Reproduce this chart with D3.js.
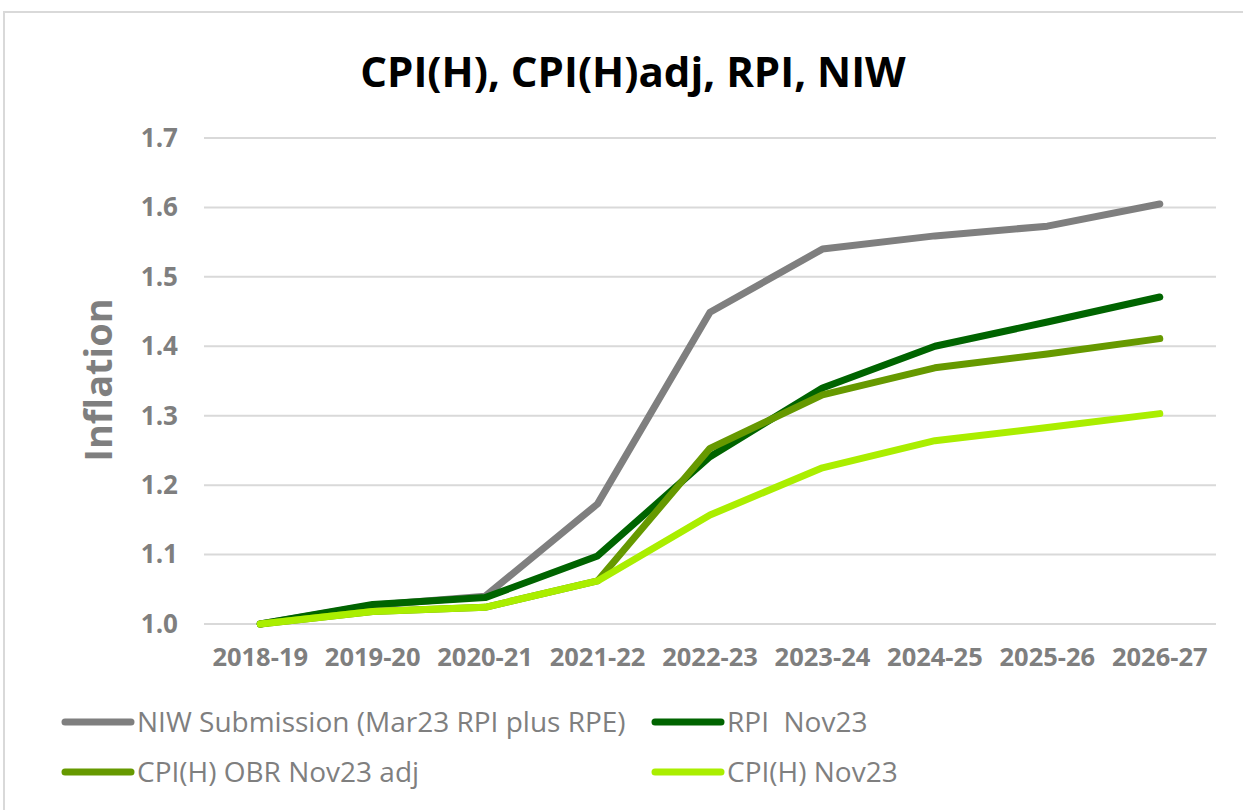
<!DOCTYPE html>
<html>
<head>
<meta charset="utf-8">
<script src="https://cdn.jsdelivr.net/npm/d3@7"></script>
<style>
  body { margin: 0; background: #fff; }
  svg { display: block; font-family: "Open Sans", sans-serif; }
</style>
</head>
<body>
<div id="chart"></div>
<script>
// data
const years = ["2018-19", "2019-20", "2020-21", "2021-22", "2022-23",
               "2023-24", "2024-25", "2025-26", "2026-27"];
const niw = [1.0, 1.027, 1.040, 1.173, 1.449, 1.540, 1.559, 1.573, 1.605];
const rpi = [1.0, 1.028, 1.038, 1.098, 1.241, 1.340, 1.400, 1.435, 1.471];
const cpihAdj = [1.0, 1.018, 1.024, 1.062, 1.253, 1.330, 1.369, 1.389, 1.411];
const cpih = [1.0, 1.018, 1.024, 1.062, 1.157, 1.225, 1.264, 1.283, 1.303];
const yTicks = [1.0, 1.1, 1.2, 1.3, 1.4, 1.5, 1.6, 1.7];

const series = [
  { name: "NIW Submission (Mar23 RPI plus RPE)", values: niw, color: "#7f7f7f" },
  { name: "RPI  Nov23", values: rpi, color: "#006400" },
  { name: "CPI(H) OBR Nov23 adj", values: cpihAdj, color: "#669900" },
  { name: "CPI(H) Nov23", values: cpih, color: "#aaee00" },
];

const width = 1243;
const height = 810;
const margin = { top: 138, right: 27, bottom: 186, left: 204 };

const svg = d3.select("#chart")
  .append("svg")
  .attr("width", width)
  .attr("height", height);

// outer frame
svg.append("rect")
  .attr("x", 4).attr("y", 12)
  .attr("width", width + 20).attr("height", height + 20)
  .attr("fill", "none")
  .attr("stroke", "#d9d9d9")
  .attr("stroke-width", 2);

svg.append("text")
  .attr("x", 633).attr("y", 87)
  .attr("text-anchor", "middle")
  .attr("font-size", 42)
  .attr("font-weight", "bold")
  .attr("fill", "#000")
  .text("CPI(H), CPI(H)adj, RPI, NIW");

const x = d3.scaleBand()
  .domain(years)
  .range([margin.left, width - margin.right]);

const y = d3.scaleLinear()
  .domain([1.0, 1.7])
  .range([height - margin.bottom, margin.top]);

// grid
svg.append("g")
  .selectAll("line")
  .data(yTicks)
  .join("line")
  .attr("x1", margin.left)
  .attr("x2", width - margin.right)
  .attr("y1", d => y(d))
  .attr("y2", d => y(d))
  .attr("stroke", "#d9d9d9")
  .attr("stroke-width", 2);

// y axis labels
const yAxis = svg.append("g")
  .attr("transform", `translate(${margin.left - 26},0)`)
  .call(d3.axisLeft(y).tickValues(yTicks).tickFormat(d3.format(".1f")).tickSize(0).tickPadding(0));
yAxis.select(".domain").remove();
yAxis.selectAll("text")
  .attr("font-family", "Open Sans, sans-serif")
  .attr("font-size", 26)
  .attr("font-weight", "bold")
  .attr("fill", "#7f7f7f");

// x axis labels
const xAxis = svg.append("g")
  .attr("transform", `translate(0,${height - margin.bottom + 24})`)
  .call(d3.axisBottom(x).tickSize(0).tickPadding(0));
xAxis.select(".domain").remove();
xAxis.selectAll("text")
  .attr("font-family", "Open Sans, sans-serif")
  .attr("font-size", 25.5)
  .attr("font-weight", "bold")
  .attr("fill", "#7f7f7f");

svg.append("text")
  .attr("transform", `translate(112,380) rotate(-90)`)
  .attr("text-anchor", "middle")
  .attr("font-size", 38)
  .attr("font-weight", "bold")
  .attr("fill", "#7f7f7f")
  .text("Inflation");

const line = d3.line()
  .x((d, i) => x(years[i]) + x.bandwidth() / 2)
  .y(d => y(d));

svg.append("g")
  .selectAll("path")
  .data(series)
  .join("path")
  .attr("d", d => line(d.values))
  .attr("fill", "none")
  .attr("stroke", d => d.color)
  .attr("stroke-width", 7)
  .attr("stroke-linecap", "round")
  .attr("stroke-linejoin", "round");

// legend
const legendPos = [[62, 722], [652, 722], [62, 772], [652, 772]];
const legend = svg.append("g")
  .selectAll("g")
  .data(series)
  .join("g")
  .attr("transform", (d, i) => `translate(${legendPos[i][0]},${legendPos[i][1]})`);

legend.append("line")
  .attr("x1", 3).attr("x2", 69)
  .attr("stroke", d => d.color)
  .attr("stroke-width", 7)
  .attr("stroke-linecap", "round");

legend.append("text")
  .attr("x", 75)
  .attr("dy", "0.35em")
  .attr("font-size", 28)
  .attr("fill", "#7f7f7f")
  .style("white-space", "pre")
  .text(d => d.name);
</script>
</body>
</html>
